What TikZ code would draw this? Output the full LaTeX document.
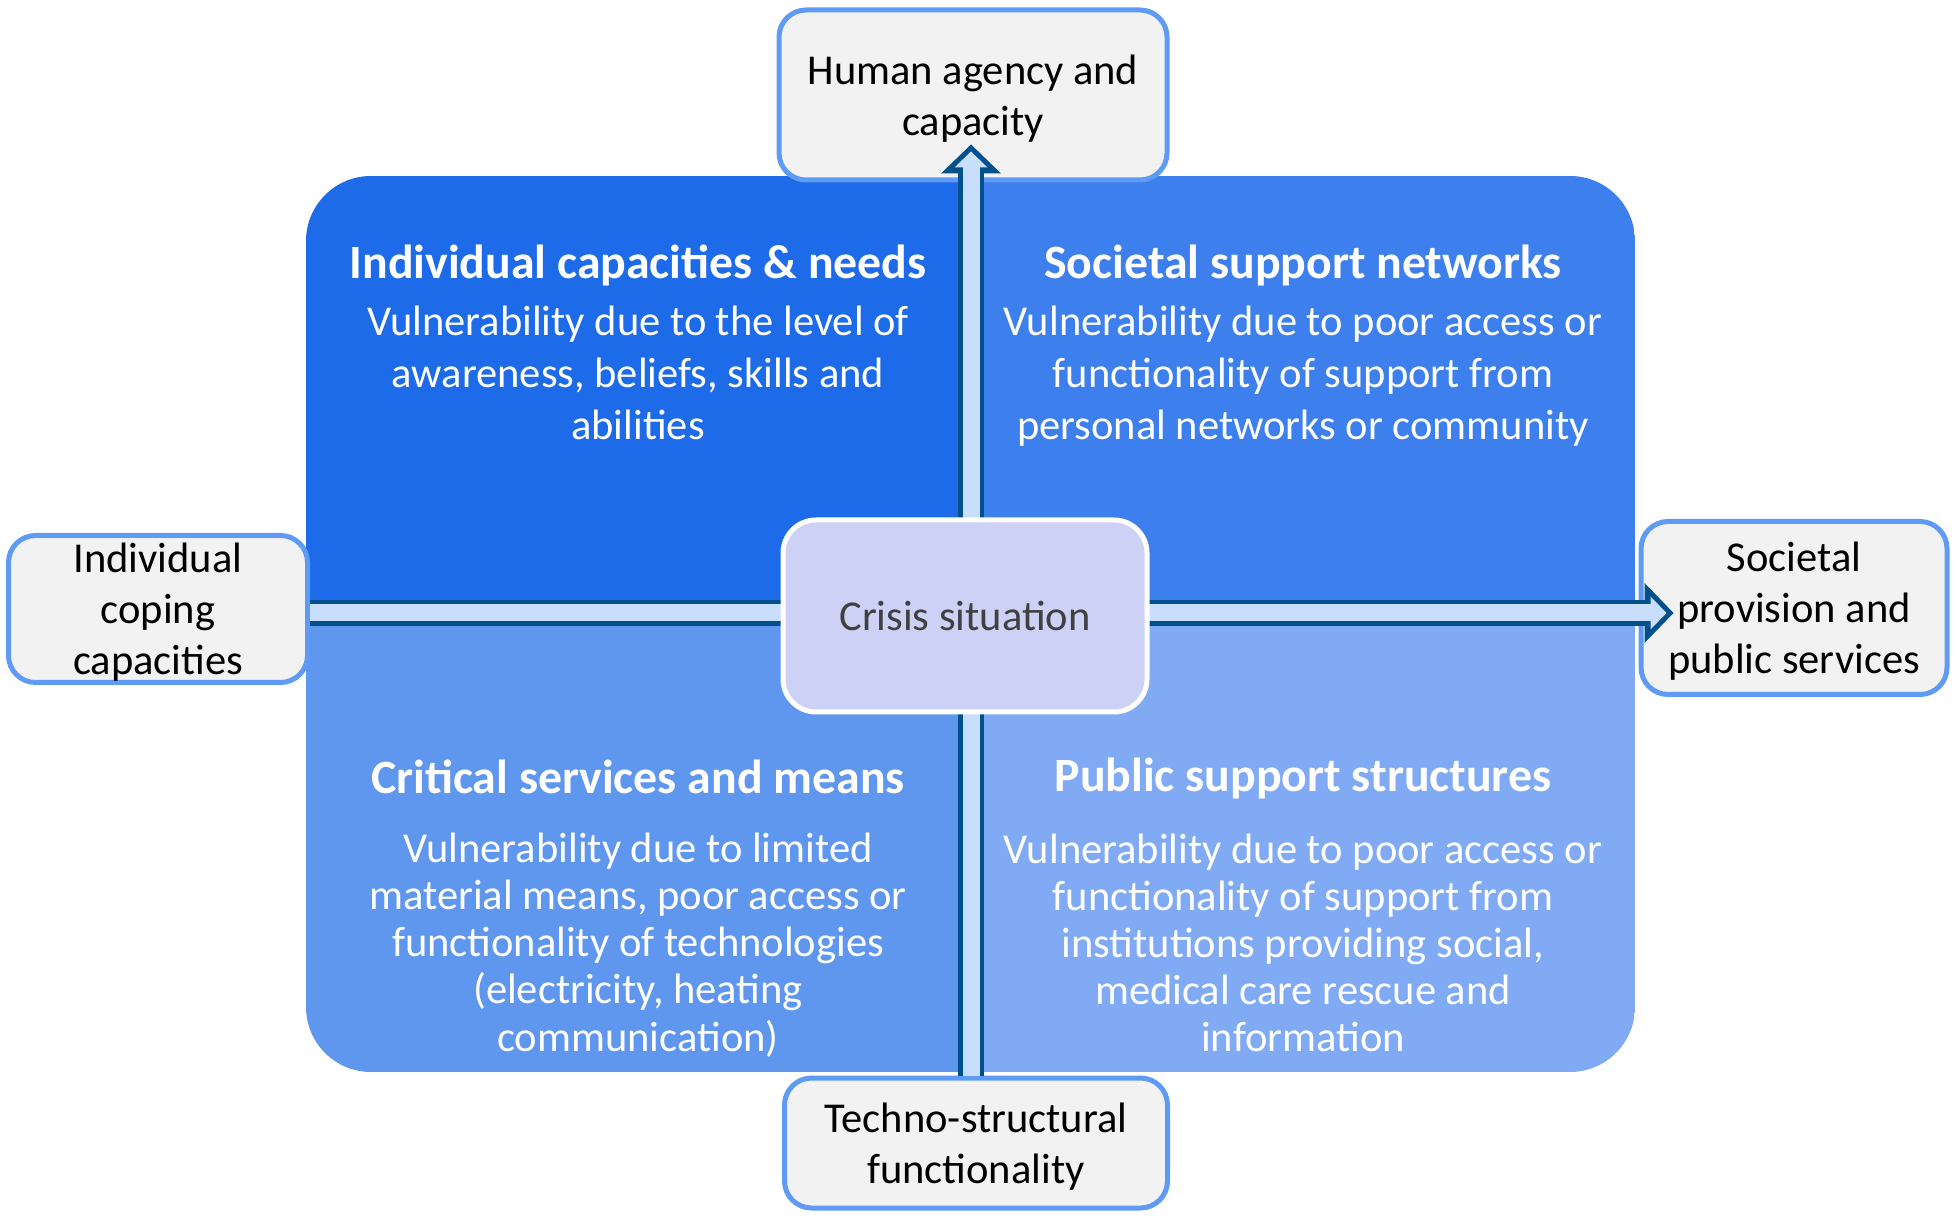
\documentclass[tikz,border=0pt]{standalone}
\usepackage{fontspec}
\setmainfont{Carlito}
\usetikzlibrary{arrows.meta}

\definecolor{quadA}{RGB}{29,107,232}
\definecolor{quadB}{RGB}{61,128,237}
\definecolor{quadC}{RGB}{95,150,238}
\definecolor{quadD}{RGB}{128,170,243}
\definecolor{rim}{RGB}{95,155,245}
\definecolor{paper}{RGB}{242,242,242}
\definecolor{crisisfill}{RGB}{204,209,245}
\definecolor{shaftdark}{RGB}{0,80,140}
\definecolor{shaftlight}{RGB}{201,221,252}
\definecolor{ink}{RGB}{64,64,64}

\tikzset{
    panelhead/.style={text=white, font=\fontsize{13.6}{15}\selectfont\bfseries},
    panelbody/.style={text=white, align=center, font=\fontsize{12.1}{14.8}\selectfont},
    sidebox/.style={draw=rim, line width=0.5mm, fill=paper, rounded corners=2.7mm,
        align=center, inner sep=0pt, text depth=0pt, font=\fontsize{12.1}{14.5}\selectfont},
    pipeout/.style={line width=2.6mm, shaftdark,
        -{Triangle[length=2.9mm, width=6mm, line width=0pt]}},
    pipein/.style={line width=1.7mm, shaftlight,
        -{Triangle[length=1.6mm, width=3.3mm, line width=0pt]}},
}

\begin{document}
\begin{tikzpicture}[x=0.1mm, y=-0.1mm]
    \useasboundingbox (0,0) rectangle (1956,1218);

    % four quadrants inside one rounded frame
    \begin{scope}
        \clip[rounded corners=6.5mm] (306,176) rectangle (1635,1072);
        \fill[quadA] (306,176) rectangle (971,614);
        \fill[quadB] (971,176) rectangle (1635,614);
        \fill[quadC] (306,614) rectangle (971,1072);
        \fill[quadD] (971,614) rectangle (1635,1072);
    \end{scope}

    % quadrant texts
    \node[panelhead] (tlhead) at (638,265) {Individual capacities \& needs};
    \node[panelbody] (tlbody) at (638,373) {Vulnerability due to the level of\\awareness, beliefs, skills and\\abilities};
    \node[panelhead] (trhead) at (1303,265) {Societal support networks};
    \node[panelbody] (trbody) at (1303,376) {Vulnerability due to poor access or\\functionality of support from\\personal networks or community};
    \node[panelhead] (blhead) at (638,777) {Critical services and means};
    \node[panelbody, font=\fontsize{12.1}{13.4}\selectfont] (blbody) at (638,945)
        {Vulnerability due to limited\\material means, poor access or\\functionality of technologies\\(electricity, heating\\communication)};
    \node[panelhead] (brhead) at (1303,778) {Public support structures};
    \node[panelbody, font=\fontsize{12.1}{13.4}\selectfont] (brbody) at (1303,943)
        {Vulnerability due to poor access or\\functionality of support from\\institutions providing social,\\medical care rescue and\\information};

    % the four outer dimensions
    \node[sidebox, minimum width=38.8mm, minimum height=17mm] (agency) at (973,95) {Human agency and\\capacity};
    \node[sidebox, minimum width=29.9mm, minimum height=14.7mm] (coping) at (158,609) {Individual\\coping\\capacities};
    \node[sidebox, minimum width=30.6mm, minimum height=17.3mm] (provision) at (1794,608) {Societal\\provision and\\public services};
    \node[sidebox, minimum width=38.3mm, minimum height=13mm] (techno) at (976,1143) {Techno-structural\\functionality};

    % axes through the centre
    \coordinate (hub) at (971,613);
    \draw[pipeout, shorten >=-3.5mm] (coping.east |- hub) -- (provision.west |- hub);
    \draw[pipein, shorten >=-2.8mm] (coping.east |- hub) -- (provision.west |- hub);
    \draw[pipeout, shorten >=-3.8mm] (hub |- techno.north) -- (hub |- agency.south);
    \draw[pipein, shorten >=-3.1mm] (hub |- techno.north) -- (hub |- agency.south);

    \node[draw=white, line width=0.5mm, fill=crisisfill, rounded corners=3.3mm,
        minimum width=36.4mm, minimum height=19.2mm, text=ink,
        font=\fontsize{12.1}{14.5}\selectfont] (crisis) at (965,616) {Crisis situation};
\end{tikzpicture}
\end{document}
